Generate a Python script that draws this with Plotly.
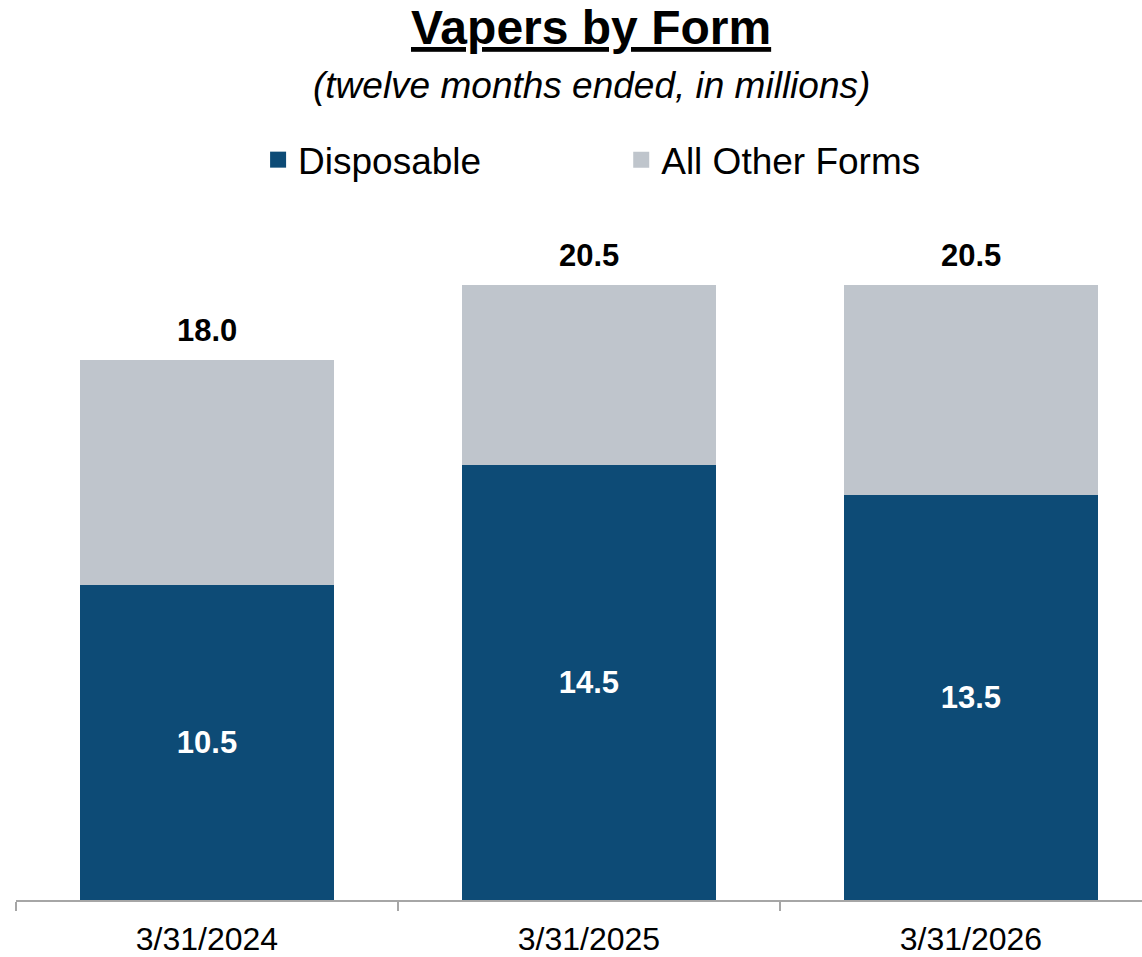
import plotly.graph_objects as go

# Twelve-month periods and vaper counts (millions)
periods = ["3/31/2024", "3/31/2025", "3/31/2026"]
disposable = [10.5, 14.5, 13.5]
totals = [18.0, 20.5, 20.5]
other_forms = [round(t - d, 1) for t, d in zip(totals, disposable)]

DARK_BLUE = "#0D4B76"
LIGHT_GRAY = "#BFC5CC"
FONT = "Liberation Sans, Arial, sans-serif"

fig = go.Figure()

fig.add_trace(go.Bar(
    x=periods, y=disposable, name="Disposable",
    marker=dict(color=DARK_BLUE, line=dict(width=0)),
    text=[f"{v:.1f}" for v in disposable],
    textposition="inside", insidetextanchor="middle", textangle=0,
    textfont=dict(family=FONT, size=31, color="white", weight="bold"),
    constraintext="none", showlegend=False,
))
fig.add_trace(go.Bar(
    x=periods, y=other_forms, name="All Other Forms",
    marker=dict(color=LIGHT_GRAY, line=dict(width=0)),
    showlegend=False, hoverinfo="skip",
))

# Legend entries with larger square swatches
fig.add_trace(go.Scatter(
    x=[None], y=[None], mode="markers", name="Disposable",
    marker=dict(symbol="square", size=20, color=DARK_BLUE),
    legend="legend",
))
fig.add_trace(go.Scatter(
    x=[None], y=[None], mode="markers", name="All Other Forms",
    marker=dict(symbol="square", size=20, color=LIGHT_GRAY),
    legend="legend2",
))

# Totals above each stack
for p, t in zip(periods, totals):
    fig.add_annotation(
        x=p, y=t, text=f"<b>{t:.1f}</b>", showarrow=False,
        yanchor="bottom", yshift=10,
        font=dict(family=FONT, size=31, color="black"),
    )

fig.add_annotation(
    xref="paper", yref="paper", x=0.5107, y=1.246,
    text="<b><u>Vapers by Form</u></b>", showarrow=False,
    xanchor="center", yanchor="middle",
    font=dict(family=FONT, size=48, color="black"),
)
fig.add_annotation(
    xref="paper", yref="paper", x=0.5107, y=1.164,
    text="<i>(twelve months ended, in millions)</i>", showarrow=False,
    xanchor="center", yanchor="middle",
    font=dict(family=FONT, size=37, color="black"),
)

legend_common = dict(
    orientation="h", yanchor="middle", y=1.057, xanchor="left",
    font=dict(family=FONT, size=37, color="black"),
    bgcolor="rgba(0,0,0,0)", itemsizing="trace", borderwidth=0,
)

fig.update_layout(
    width=1142, height=957,
    margin=dict(l=16, r=0, t=200, b=55),
    paper_bgcolor="white", plot_bgcolor="white",
    barmode="stack", bargap=0.334,
    legend=dict(x=0.215, **legend_common),
    legend2=dict(x=0.5375, **legend_common),
    xaxis=dict(
        type="category", range=[-0.5, 2.448],
        showline=True, linecolor="#A6A6A6", linewidth=1.5,
        ticks="outside", tickson="boundaries", ticklen=9,
        tickcolor="#A6A6A6", tickwidth=1.5, ticklabelstandoff=10,
        tickfont=dict(family=FONT, size=32, color="black"),
        showgrid=False, zeroline=False, fixedrange=True,
    ),
    yaxis=dict(
        range=[0, 23.35], visible=False, showgrid=False,
        zeroline=False, fixedrange=True,
    ),
    showlegend=True,
)

fig.write_html("out.html")
